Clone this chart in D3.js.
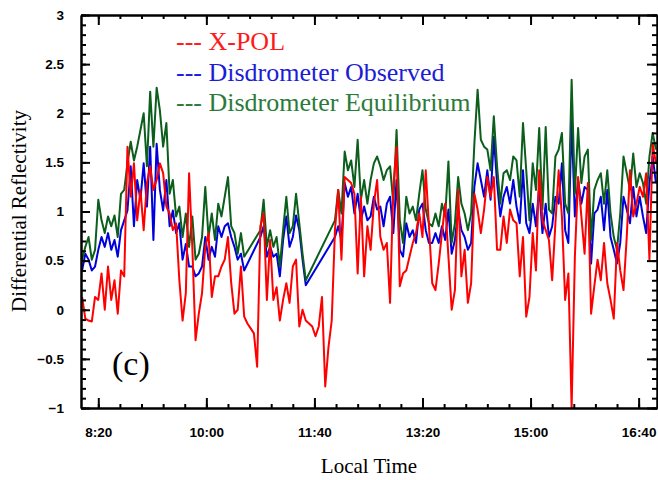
<!DOCTYPE html>
<html>

<head>
    <meta charset="utf-8" />
    <script src="https://d3js.org/d3.v7.min.js"></script>
    <style>
        body {
            margin: 0;
            background: #fff;
        }

        .tick text {
            font-family: 'Liberation Sans', Arial, sans-serif;
            font-size: 13.5px;
            font-weight: bold;
            fill: #000;
        }

        .axis path,
        .axis line {
            stroke: #000;
            stroke-width: 2;
        }
    </style>
</head>

<body>
    <script>
        // samples every 3 minutes, starting 8:05 (minutes after midnight)
        const startMinute = 485;
        const stepMinutes = 3;

        const xpol = [
            0.13, -0.09, -0.11, -0.12, 0.13, 0.10, 0.37, 0.0, 0.44, 0.10,
            0.30, -0.04, 0.40, 0.34, 1.66, 1.15, 1.49, 0.91, 1.22, 0.81,
            1.29, 1.46, 1.22, 1.32, 1.49, 1.39, 1.05, 0.98, 0.81, 0.88,
            0.30, -0.11, 0.17, 1.39, 0.64, -0.31, -0.04, 0.17, 0.64, 0.78,
            0.13, 0.34, 0.34, 0.44, 0.51,
            0.74, 0.27, -0.04, 0.0, 0.44, -0.07, -0.14, -0.19, -0.24, -0.58,
            0.85, 0.98, 0.10, 0.71, 0.10, 0.23, -0.11, 0.10, 0.27, 0.07,
            0.44, 0.51, -0.17, 0.0, -0.11, -0.14, -0.17, -0.27, -0.17, 0.13,
            -0.78, -0.38, -0.11, 0.81, 1.22, 0.51, 1.35, 1.32, 1.29, 1.18,
            0.37, 1.15, 0.34, 0.85,
            0.61, 1.08, 1.32, 0.74, 0.61, 0.68, 0.07, 1.25, 1.66, 0.24,
            0.37, 0.40, 0.54, 0.68, 0.78, 0.98, 0.74, 1.42, 0.85, 0.27,
            0.20, 0.47, 0.78, 1.08, 0.54, 0.0, 0.20, 1.22, 0.34, 0.61,
            0.07, 0.27, 1.18, 1.02, 0.78, 1.02, 1.35, 1.15, 1.35, 0.61,
            0.61, 0.95, 0.68, 1.02, 0.91,
            0.88, 0.34, 0.74, -0.07, 0.13, 0.78, 0.40, 1.42, 0.91, 0.81,
            0.71, 0.30, 0.88, 1.42, 0.95, 0.10, 0.37, -1.0, 0.54, 1.35,
            0.95, 0.57, 1.29, -0.04, 0.24, 0.51, 0.30, 0.68, 0.27, 0.10,
            -0.09, 0.68, 0.40, 0.20, 0.74, 1.42, 0.95, 1.08, 1.25, 1.15,
            1.39, 0.51, 1.69, 1.49
        ];

        // null = no disdrometer sample (line is drawn straight across)
        const observed = [
            0.40, 0.57, 0.51, 0.40, 0.44, 0.61, 0.74, 0.64, 0.78, 0.61,
            0.71, 0.54, 0.81, 0.91, 1.01, 1.46, 0.85, 1.32, 1.12, 1.49,
            1.05, 1.66, 0.71, 1.69, 1.22, 1.01, 1.32, 0.85, 1.01, 0.78,
            0.88, 0.51, 0.67, 0.44, 0.44, 0.34, 0.37, 0.44, 0.74, 0.51,
            0.64, 0.54, 0.85, 0.74, 0.85,
            0.88, 0.74, 0.64, 0.51, 0.57, 0.40, null, null, null, null,
            0.74, 0.85, 0.54, 0.64, 0.54, 0.57, 0.34, 0.71, 0.95, 0.64,
            0.74, 0.96, 0.81, 0.51, 0.25, null, null, null, null, null,
            null, null, null, 0.74, 0.85, 0.71, 1.29, 1.15, 1.25, 0.98,
            1.18, 0.91, 1.05, 0.91,
            0.95, 1.15, 1.02, 1.05, 0.85, 1.08, 1.15, 0.78, 1.32, 0.61,
            0.54, 0.88, 0.74, 0.81, 0.68, 1.02, 1.08, 0.81, 0.68, 0.68,
            0.78, 0.68, 0.85, 0.71, 1.02, 0.57, 0.71, 1.02, 0.81, 0.74,
            0.61, 0.68, 1.25, 1.49, 1.32, 1.15, 1.42, 1.12, 1.76, 1.29,
            0.95, 1.15, 1.25, 1.08, 1.32,
            1.05, 0.88, 1.42, 0.88, 0.78, 1.08, 0.85, 1.25, 0.78, 1.08,
            0.74, 0.85, 1.15, 1.08, 1.49, 0.81, 0.68, 1.93, 0.95, 1.32,
            1.08, 1.25, 1.22, 0.47, 0.98, 1.02, 1.15, 0.81, 1.22, 0.74,
            0.61, 0.47, 0.68, 1.15, 1.02, 0.88, 1.25, 0.95, 1.15, 0.95,
            0.78, 1.29, 1.56, 1.29
        ];

        const equilibrium = [
            0.51, 0.64, 0.74, 0.51, 0.61, 1.12, 0.91, 0.78, 0.95, 0.85,
            0.96, 0.74, 1.18, 1.22, 1.49, 1.71, 1.52, 1.66, 1.83, 2.00,
            1.46, 2.22, 1.66, 2.26, 2.03, 1.66, 1.90, 1.18, 1.32, 0.95,
            1.05, 0.74, 0.98, 0.64, 0.95, 0.51, 0.57, 0.74, 1.25, 0.74,
            0.98, 0.71, 1.08, 0.95, 1.15,
            1.35, 0.85, 0.78, 0.57, 0.78, 0.54, null, null, null, null,
            0.81, 1.12, 0.64, 0.81, 0.64, 0.74, 0.44, 0.81, 1.15, 0.78,
            0.85, 1.18, 0.88, 0.57, 0.30, null, null, null, null, null,
            null, null, null, 0.91, 1.22, 0.98, 1.61, 1.42, 1.52, 1.25,
            1.73, 1.12, 1.32, 1.08,
            1.32, 1.49, 1.56, 1.46, 1.32, 1.42, 1.46, 1.08, 1.83, 0.91,
            0.68, 1.15, 0.98, 1.05, 0.91, 1.18, 1.42, 1.02, 0.88, 0.85,
            0.98, 0.85, 1.08, 0.95, 1.51, 0.68, 0.88, 1.35, 1.08, 0.98,
            0.81, 0.98, 1.69, 2.24, 1.73, 1.66, 1.63, 1.42, 1.97, 1.46,
            1.08, 1.39, 1.42, 1.32, 1.56,
            1.52, 1.15, 1.90, 1.42, 0.91, 1.49, 1.22, 1.85, 1.02, 1.86,
            1.02, 0.98, 1.56, 1.63, 1.80, 1.08, 0.98, 2.34, 1.18, 1.85,
            1.29, 1.56, 1.63, 0.71, 1.22, 1.32, 1.39, 1.08, 1.42, 0.98,
            0.74, 0.61, 0.98, 1.56, 1.39, 1.22, 1.59, 1.25, 1.39, 1.29,
            1.08, 1.56, 1.80, 1.63
        ];

        const xTickMinutes = [500, 600, 700, 800, 900, 1000];
        const yTickValues = [-1, -0.5, 0, 0.5, 1, 1.5, 2, 2.5, 3];
        const legendLabels = ['--- X-POL', '--- Disdrometer Observed', '--- Disdrometer Equilibrium'];

        // dimensions
        const width = 658;
        const height = 480;
        const plot = { left: 81, right: 657, top: 15, bottom: 408 };

        const svg = d3.select('body')
            .append('svg')
            .attr('width', width)
            .attr('height', height);

        const x = d3.scaleLinear().domain([484, 1017]).range([plot.left, plot.right]);
        const y = d3.scaleLinear().domain([-1, 3]).range([plot.bottom, plot.top]);

        const fmtTime = m => `${Math.floor(m / 60)}:${String(m % 60).padStart(2, '0')}`;
        const xMinor = d3.range(500, 1001, 20);
        const yMinor = d3.range(-10, 31).map(v => v / 10);

        // lines
        svg.append('clipPath').attr('id', 'clip')
            .append('rect')
            .attr('x', plot.left).attr('y', plot.top)
            .attr('width', plot.right - plot.left).attr('height', plot.bottom - plot.top);

        const toPoints = values => values
            .map((v, i) => ({ t: startMinute + i * stepMinutes, v }))
            .filter(d => d.v !== null);

        const line = d3.line().x(d => x(d.t)).y(d => y(d.v));

        const series = [
            { values: observed, color: '#0000dc' },
            { values: equilibrium, color: '#0b5e1c' },
            { values: xpol, color: '#ff0000' }
        ];

        svg.append('g').attr('clip-path', 'url(#clip)')
            .selectAll('path')
            .data(series)
            .enter()
            .append('path')
            .attr('d', d => line(toPoints(d.values)))
            .attr('fill', 'none')
            .attr('stroke', d => d.color)
            .attr('stroke-width', 2)
            .attr('stroke-linejoin', 'round');

        // axes: minor ticks
        svg.append('g').attr('class', 'axis')
            .attr('transform', `translate(0,${plot.bottom})`)
            .call(d3.axisBottom(x).tickValues(xMinor).tickSize(-4).tickSizeOuter(0).tickFormat(''));
        svg.append('g').attr('class', 'axis')
            .attr('transform', `translate(0,${plot.top})`)
            .call(d3.axisTop(x).tickValues(xMinor).tickSize(-4).tickSizeOuter(0).tickFormat(''));
        svg.append('g').attr('class', 'axis')
            .attr('transform', `translate(${plot.left},0)`)
            .call(d3.axisLeft(y).tickValues(yMinor).tickSize(-5).tickSizeOuter(0).tickFormat(''));
        svg.append('g').attr('class', 'axis')
            .attr('transform', `translate(${plot.right},0)`)
            .call(d3.axisRight(y).tickValues(yMinor).tickSize(-5).tickSizeOuter(0).tickFormat(''));

        // axes: major ticks
        svg.append('g').attr('class', 'axis')
            .attr('transform', `translate(0,${plot.bottom})`)
            .call(d3.axisBottom(x).tickValues(xTickMinutes).tickSize(-10).tickSizeOuter(0).tickPadding(19).tickFormat(fmtTime));
        svg.append('g').attr('class', 'axis')
            .attr('transform', `translate(0,${plot.top})`)
            .call(d3.axisTop(x).tickValues(xTickMinutes).tickSize(-10).tickSizeOuter(0).tickFormat(''));
        svg.append('g').attr('class', 'axis')
            .attr('transform', `translate(${plot.left},0)`)
            .call(d3.axisLeft(y).tickValues(yTickValues).tickSize(-9).tickSizeOuter(0).tickPadding(17).tickFormat(d3.format('')));
        svg.append('g').attr('class', 'axis')
            .attr('transform', `translate(${plot.right},0)`)
            .call(d3.axisRight(y).tickValues(yTickValues).tickSize(-10).tickSizeOuter(0).tickFormat(''));

        // legend
        const legendColors = ['#ff1a1a', '#1c1cd6', '#2a7b3a'];
        svg.append('g')
            .selectAll('text')
            .data(legendLabels)
            .enter()
            .append('text')
            .attr('x', 176)
            .attr('y', (d, i) => 50 + i * 30.5)
            .style('font-family', "'Liberation Serif', 'Times New Roman', serif")
            .style('font-size', '26px')
            .style('fill', (d, i) => legendColors[i])
            .text(d => d);

        // panel letter
        svg.append('text')
            .attr('x', 112)
            .attr('y', 375)
            .style('font-family', "'Liberation Serif', 'Times New Roman', serif")
            .style('font-size', '34px')
            .text('(c)');

        // axis labels
        svg.append('text')
            .attr('transform', 'translate(26,211) rotate(-90)')
            .style('text-anchor', 'middle')
            .style('font-family', "'Liberation Serif', 'Times New Roman', serif")
            .style('font-size', '21px')
            .text('Differential Reflectivity');

        svg.append('text')
            .attr('x', 369)
            .attr('y', 473)
            .style('text-anchor', 'middle')
            .style('font-family', "'Liberation Serif', 'Times New Roman', serif")
            .style('font-size', '21px')
            .text('Local Time');
    </script>
</body>

</html>
